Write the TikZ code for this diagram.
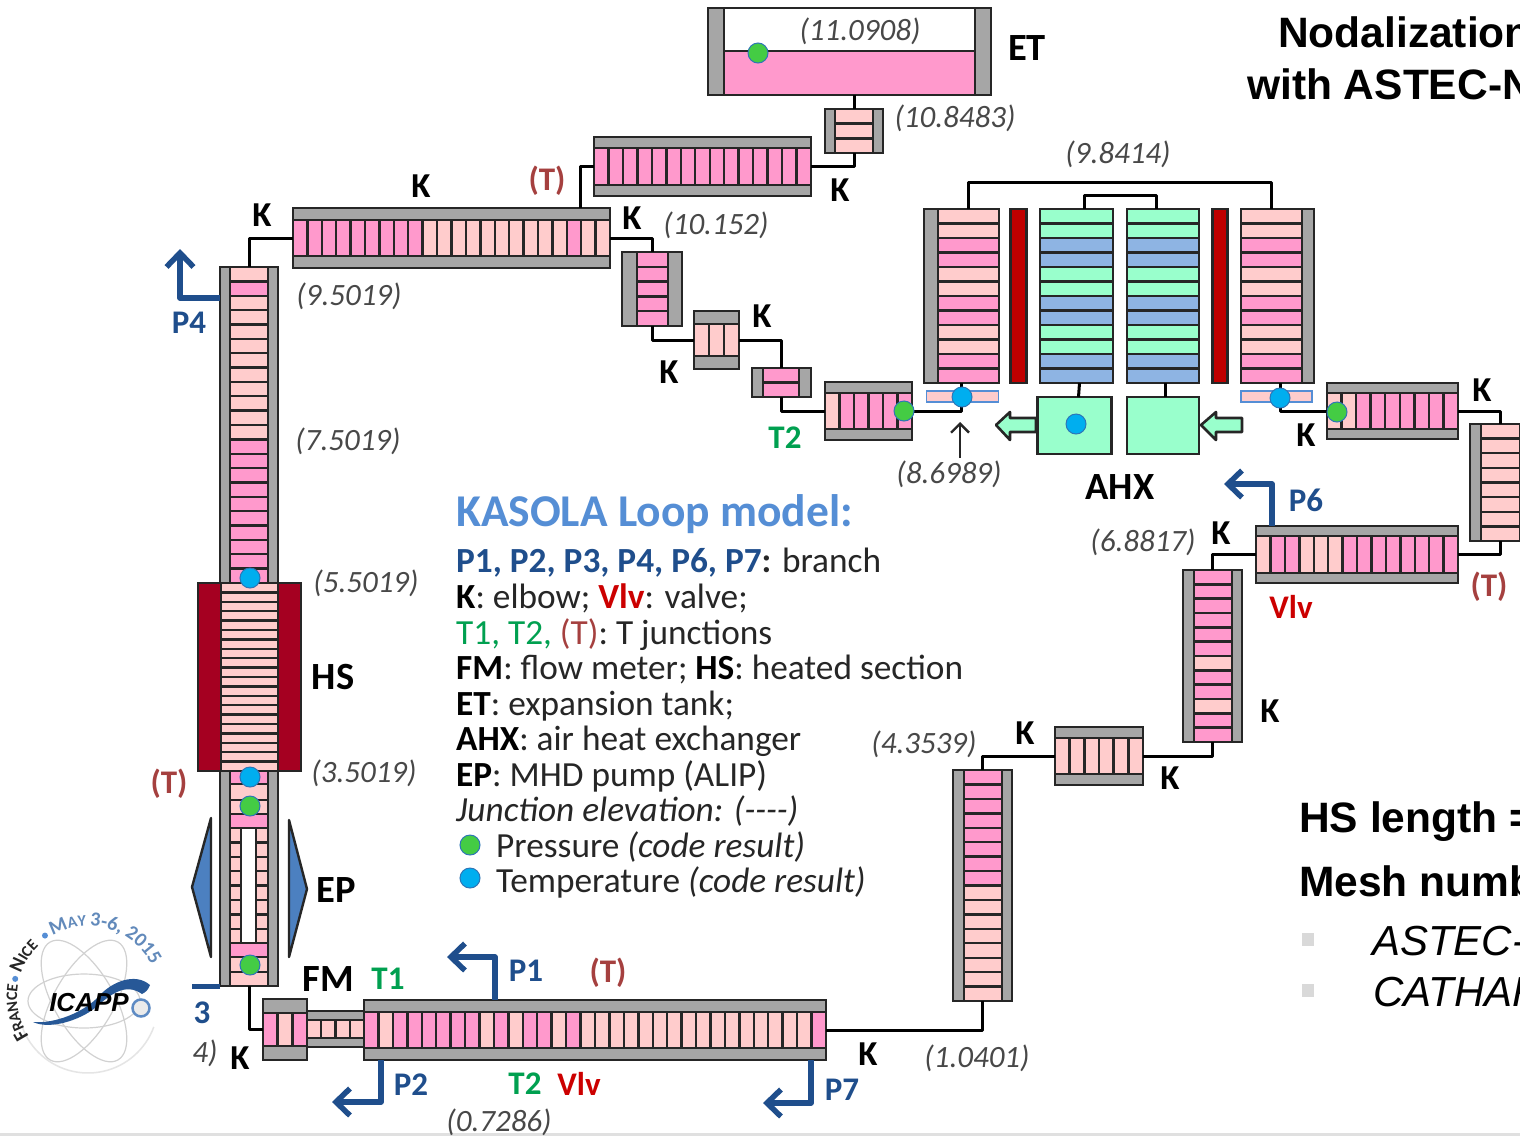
\documentclass[tikz,border=0pt]{standalone}
\usepackage{fontspec}
\setmainfont{Carlito}
\newfontfamily\arialf{Liberation Sans}
\usetikzlibrary{arrows.meta,decorations.text,calc}
\definecolor{P}{HTML}{FF99CC}
\definecolor{L}{HTML}{FFCCCC}
\definecolor{G}{HTML}{99FFCC}
\definecolor{B}{HTML}{8EB4E3}
\definecolor{wallgray}{HTML}{A6A6A6}
\definecolor{ink}{HTML}{262626}
\definecolor{hsred}{HTML}{A50021}
\definecolor{barred}{HTML}{C00000}
\definecolor{pblue}{HTML}{1F4E8C}
\definecolor{kblue}{HTML}{558ED5}
\definecolor{tgreen}{HTML}{00A050}
\definecolor{tred}{HTML}{A5403F}
\definecolor{vred}{HTML}{CC0000}
\definecolor{elevgray}{HTML}{484848}
\definecolor{dotg}{HTML}{44CC44}
\definecolor{dotb}{HTML}{00AEEF}
\definecolor{dotedge}{HTML}{2E75B6}
\tikzset{
  wallbox/.style={draw=ink,fill=wallgray,line width=2.4pt,rectangle,inner sep=0pt,outer sep=0pt},
  cellbox/.style={draw=ink,line width=2.4pt},
  conn/.style={draw=black,line width=3pt,line join=round},
  branch/.style={draw=pblue,line width=5.5pt,line join=round,-{Straight Barb[length=14pt,width=27pt,line width=5.5pt]}},
  lab/.style={font=\fontsize{33}{33}\selectfont\bfseries,inner sep=0pt,text=pblue},
  lk/.style={font=\fontsize{38.5}{38.5}\selectfont\bfseries,inner sep=0pt,text=black},
  lkk/.style={font=\fontsize{35}{35}\selectfont\bfseries,inner sep=0pt,text=black},
  lp/.style={lab,text=pblue},
  lt1/.style={lab,text=tgreen},
  ltr/.style={lab,text=tred},
  lv/.style={lab,text=vred},
  elev/.style={font=\fontsize{31}{31}\selectfont\itshape,inner sep=0pt,text=elevgray,yshift=-1.5pt},
  leg/.style={font=\fontsize{35.3}{35.3}\selectfont,inner sep=0pt,anchor=base west,text=ink},
  dotG/.style={circle,fill=dotg,draw=dotedge,line width=1pt,minimum size=20pt,inner sep=0pt},
  dotB/.style={circle,fill=dotb,draw=dotedge,line width=1pt,minimum size=20pt,inner sep=0pt},
  head/.style={font=\arialf\bfseries\fontsize{42.5}{42.5}\selectfont,inner sep=0pt,anchor=base west,text=black},
  note/.style={font=\arialf\fontsize{42}{42}\selectfont\itshape,inner sep=0pt,anchor=base west,text=black},
  minty/.style={draw=ink,fill=G,line width=2.6pt,line join=round},
  orbit/.style={draw=black!18,line width=1.2pt},
}
% name, x0, y0, x1, y1, bar, n, colours
\newcommand{\hpipe}[8]{%
  \node[wallbox,minimum width=#4pt-#2pt,minimum height=#5pt-#3pt] (#1) at ({(#2+#4)/2},{(#3+#5)/2}) {};
  \foreach \cc [count=\ii] in {#8} {
    \filldraw[cellbox,fill=\cc] ({#2+(\ii-1)*(#4-#2)/#7},{#3+#6}) rectangle ({#2+\ii*(#4-#2)/#7},{#5-#6});
  }}
% name, x0, y0, x1, y1, barL, barR, n, colours
\newcommand{\vpipe}[9]{%
  \node[wallbox,minimum width=#4pt-#2pt,minimum height=#5pt-#3pt] (#1) at ({(#2+#4)/2},{(#3+#5)/2}) {};
  \foreach \cc [count=\ii] in {#9} {
    \filldraw[cellbox,fill=\cc] ({#2+#6},{#3+(\ii-1)*(#5-#3)/#8}) rectangle ({#4-#7},{#3+\ii*(#5-#3)/#8});
  }}
\begin{document}
\begin{tikzpicture}[x=1pt,y=-1pt]
\clip (0,0) rectangle (1520,1136);
\fill[white] (0,0) rectangle (1520,1136);
\fill[black!12] (0,1133) rectangle (1520,1136);

% ---- expansion tank
\node[wallbox,minimum width=283pt,minimum height=87pt] (et) at (849.5,51.5) {};
\filldraw[cellbox,fill=white] (724,8) rectangle (975,51);
\filldraw[cellbox,fill=P] (724,51) rectangle (975,95);
\vpipe{etsmall}{825}{109}{883}{153}{10}{10}{3}{L,L,L}
\hpipe{ptop}{594}{137}{811}{196}{11}{15}{P,P,P,P,P,P,P,P,P,P,P,P,P,P,P}
\hpipe{pleft}{293}{208}{610}{268}{12}{22}{P,P,P,P,P,P,P,P,P,L,L,L,L,L,L,L,L,L,L,P,L,L}
\vpipe{pa}{622}{252}{682}{326}{15}{14}{5}{P,P,P,P,P}
\hpipe{pb}{694}{311}{739}{369}{13}{3}{L,L,L}
\vpipe{pc}{752}{368}{811}{397}{11}{12}{2}{P,P}
\hpipe{pd}{825}{382}{912}{440}{11}{6}{L,P,P,P,P,P}

% ---- AHX
\vpipe{ahxL}{924}{209}{999}{383}{14}{0}{12}{L,L,P,P,L,L,P,P,L,L,P,P}
\node[wallbox,fill=barred,minimum width=16pt,minimum height=174pt] (rbarL) at (1018.5,296) {};
\vpipe{hxa}{1040}{209}{1113}{383}{0}{0}{12}{G,G,B,B,G,G,B,B,G,G,B,B}
\vpipe{hxb}{1127}{209}{1199}{383}{0}{0}{12}{G,G,B,B,G,G,B,B,G,G,B,B}
\node[wallbox,fill=barred,minimum width=15pt,minimum height=174pt] (rbarR) at (1220,296) {};
\vpipe{ahxR}{1241}{209}{1314}{383}{0}{12}{12}{L,L,P,P,L,L,P,P,L,L,P,P}
\node[wallbox,fill=G,minimum width=74pt,minimum height=57pt] (boxa) at (1074.5,425.5) {};
\node[wallbox,fill=G,minimum width=72pt,minimum height=57pt] (boxb) at (1163,425.5) {};
\node[wallbox,draw=kblue,fill=L,minimum width=72pt,minimum height=11pt,line width=1.6pt] (thinL) at (962.5,396.5) {};
\node[wallbox,draw=kblue,fill=L,minimum width=71pt,minimum height=11pt,line width=1.6pt] (thinR) at (1276.5,396.5) {};
\filldraw[minty] (996,425) -- (1010,412) -- (1010,418) -- (1036,418) -- (1036,432) -- (1010,432) -- (1010,440) -- cycle;
\filldraw[minty] (1201,425) -- (1216,412) -- (1216,418) -- (1242,418) -- (1242,432) -- (1216,432) -- (1216,440) -- cycle;

% ---- right branch
\hpipe{pe}{1327}{383}{1458}{439}{10}{9}{L,L,P,P,P,P,P,P,P}
\vpipe{pf}{1470}{424}{1531}{541}{11}{11}{8}{L,L,L,L,L,L,L,L}
\hpipe{pg}{1256}{526}{1458}{583}{10}{14}{L,P,P,L,L,L,P,P,P,P,P,P,P,P}
\vpipe{ph}{1183}{570}{1242}{742}{11}{10}{12}{P,P,P,P,P,P,L,P,P,L,P,P}
\hpipe{pi}{1055}{727}{1143}{785}{11}{6}{L,L,L,L,L,L}
\vpipe{pj}{953}{770}{1012}{1001}{11}{10}{16}{P,P,P,P,P,P,P,P,L,L,L,L,L,L,L,L}

% ---- bottom branch
\hpipe{pmain}{364}{1000}{826}{1060}{12}{32}{P,L,P,P,P,P,P,P,L,P,L,P,P,L,P,L,L,L,L,L,L,L,L,L,L,L,L,L,L,L,L,P}
\hpipe{pfmlink}{307}{1011}{364}{1047}{9}{4}{L,L,L,L}
\hpipe{pfm}{263}{999}{307}{1060}{14}{3}{P,L,P}

% ---- main riser
\vpipe{riser}{220}{267}{278}{583}{10}{10}{22}{L,P,L,L,L,L,L,L,L,L,L,L,P,P,P,P,P,P,P,P,P,P}
\node[wallbox,fill=hsred,minimum width=103pt,minimum height=188pt] (hs) at (249.5,677) {};
\vpipe{heated}{221}{583}{278}{771}{0}{0}{20}{L,L,L,L,L,L,L,L,L,L,L,L,L,L,L,L,L,L,L,L}
\vpipe{lower}{220}{771}{278}{986}{10}{10}{1}{L}
\foreach \ii in {0,...,7} {
  \filldraw[cellbox,fill=L] (230,{828+\ii*14.4}) rectangle (241,{828+(\ii+1)*14.4});
  \filldraw[cellbox,fill=L] (256,{828+\ii*14.4}) rectangle (268,{828+(\ii+1)*14.4});
}
\filldraw[cellbox,fill=white] (241,828) rectangle (256,943);
\filldraw[cellbox,fill=P] (230,943) rectangle (268,957);
\filldraw[cellbox,fill=L] (230,957) rectangle (268,972);
\filldraw[cellbox,fill=L] (230,972) rectangle (268,986);
\filldraw[cellbox,fill=P] (230,771) rectangle (268,784);
\filldraw[cellbox,fill=L] (230,784) rectangle (268,800);
\filldraw[cellbox,fill=L] (230,800) rectangle (268,814);
\filldraw[cellbox,fill=P] (230,814) rectangle (268,828);
\filldraw[draw=ink,fill=kblue!90!black,line width=2.4pt,line join=round] (211,818) -- (192,887) -- (211,957) -- cycle;
\filldraw[draw=ink,fill=kblue!90!black,line width=2.4pt,line join=round] (289,820) -- (307,889) -- (289,957) -- cycle;

% ---- connectors
\draw[conn] (riser.north) |- (pleft.west);
\draw[conn] (pleft.east) -| (pa.north);
\draw[conn] (pa.south) |- (pb.west);
\draw[conn] (pb.east) -| (pc.north);
\draw[conn] (pc.south) |- (pd.west);
\draw[conn] (pd.east) -| (ahxL.south);
\draw[conn] (etsmall.north |- et.south) -- (etsmall.north);
\draw[conn] (etsmall.south) |- (ptop.east);
\draw[conn] (ptop.west) -| ([xshift=129pt]pleft.north);
\draw[conn] ([xshift=7pt]ahxL.north) -- ++(0,-27) -| ([xshift=-6pt]ahxR.north);
\draw[conn] ([xshift=8pt]hxa.north) -- ++(0,-14) -| ([xshift=-7pt]hxb.north);
\draw[conn] ([xshift=3pt]hxa.south) -- ([xshift=4pt]boxa.north);
\draw[conn] ([xshift=2pt]hxb.south) -- ([xshift=2pt]boxb.north);
\draw[conn] ([xshift=2.5pt]ahxR.south) |- (pe.west);
\draw[conn] (pe.east) -| (pf.north);
\draw[conn] (pf.south) |- (pg.east);
\draw[conn] (pg.west) -| (ph.north);
\draw[conn] (ph.south) |- (pi.east);
\draw[conn] (pi.west) -| (pj.north);
\draw[conn] (pj.south) |- (pmain.east);
\draw[conn] (lower.south) |- (pfm.west);

% ---- branches
\coordinate (tipone) at (447,957);
\coordinate (tiptwo) at (332,1102);
\coordinate (tipseven) at (763,1103);
\coordinate (tipfour) at (180,249);
\coordinate (tipsix) at (1224,484);
\coordinate (endthree) at (192,986);
\draw[branch] ([xshift=-100pt]pmain.north) |- (tipone);
\draw[branch] ([xshift=-214pt]pmain.south) |- (tiptwo);
\draw[branch] ([xshift=216pt]pmain.south) |- (tipseven);
\draw[branch] ([yshift=127pt]riser.west) -| (tipfour);
\draw[branch] ([xshift=-85pt]pg.north) |- (tipsix);
\draw[draw=pblue,line width=5pt] (lower.south west) -- (endthree);

% ---- dots
\node[dotG] (d1) at (758,53) {};
\node[dotG] (d2) at (904,411) {};
\node[dotB] (d3) at (962,397) {};
\node[dotB] (d4) at (1076,424) {};
\node[dotB] (d5) at (1280,398) {};
\node[dotG] (d6) at (1337,412) {};
\node[dotB] (d7) at (250,578) {};
\node[dotB] (d8) at (250,777) {};
\node[dotG] (d9) at (250,806) {};
\node[dotG] (d10) at (250,965) {};
\node[dotG] (d11) at (470,845) {};
\node[dotB] (d12) at (470,878) {};

% ---- labels
\node[lk] (tET) at (1027,48) {ET};
\node[elev] (e1) at (860,30) {(11.0908)};
\node[elev] (e2) at (955,117) {(10.8483)};
\node[elev] (e3) at (1118,153) {(9.8414)};
\node[elev] (e4) at (716,224) {(10.152)};
\node[elev] (e5) at (349,295) {(9.5019)};
\node[elev] (e6) at (348,440) {(7.5019)};
\node[elev] (e7) at (366,582) {(5.5019)};
\node[elev] (e8) at (364,772) {(3.5019)};
\node[elev] (e9) at (949,473) {(8.6989)};
\node[elev] (e10) at (1143,541) {(6.8817)};
\node[elev] (e11) at (924,743) {(4.3539)};
\node[elev] (e12) at (977,1057) {(1.0401)};
\node[elev] (e13) at (499,1121) {(0.7286)};
\node[elev] (e14) at (205,1052) {4)};
\coordinate (tipel) at (960,422);
\draw[draw=ink,line width=2.4pt,-{Straight Barb[length=9pt,width=18pt,line width=2.4pt]}] ([xshift=11pt,yshift=3pt]e9.north) -- (tipel);

\node[lkk] (k1) at (262,215) {K};
\node[lkk] (k2) at (421,186) {K};
\node[lkk] (k3) at (632,218) {K};
\node[lkk] (k4) at (840,190) {K};
\node[lkk] (k5) at (762,316) {K};
\node[lkk] (k6) at (669,372) {K};
\node[lkk] (k7) at (1306,435) {K};
\node[lkk] (k8) at (1482,390) {K};
\node[lkk] (k9) at (1221,533) {K};
\node[lkk] (k10) at (1270,711) {K};
\node[lkk] (k11) at (1170,778) {K};
\node[lkk] (k12) at (1025,733) {K};
\node[lkk] (k13) at (868,1054) {K};
\node[lkk] (k14) at (240,1058) {K};
\node[lk] (tHS) at (333,677) {HS};
\node[lk] (tEP) at (336,890) {EP};
\node[lk] (tFM) at (328,979) {FM};
\node[lk] (tAHX) at (1120,487) {AHX};
\node[lp] (tP4) at (189,323) {P4};
\node[lp] (tP1) at (526,971) {P1};
\node[lp] (tP2) at (411,1085) {P2};
\node[lp] (tP7) at (842,1090) {P7};
\node[lp] (tP6) at (1306,500) {P6};
\node[lp] (tP3) at (202,1013) {3};
\node[lt1] (tT1) at (388,979) {T1};
\node[lt1] (tT2a) at (525,1084) {T2};
\node[lt1] (tT2b) at (785,438) {T2};
\node[ltr] (tTa) at (547,181) {(T)};
\node[ltr] (tTb) at (169,784) {(T)};
\node[ltr] (tTc) at (608,973) {(T)};
\node[ltr] (tTd) at (1489,587) {(T)};
\node[lv] (tVa) at (579,1084) {Vlv};
\node[lv] (tVb) at (1291,607) {Vlv};

% ---- legend
\node[leg,font=\fontsize{45.5}{45.5}\selectfont\bfseries,text=kblue] (lg0) at (456,526) {KASOLA Loop model:};
\node[leg] (lg1) at (456,572) {\textbf{\textcolor{pblue}{P1, P2, P3, P4, P6, P7}:} branch};
\node[leg] (lg2) at (456,608) {\textbf{\textcolor{black}{K}}: elbow; \textbf{\textcolor{vred}{Vlv}}: valve;};
\node[leg] (lg3) at (456,644) {\textcolor{tgreen}{T1, T2,} \textcolor{tred}{(T)}: T junctions};
\node[leg] (lg4) at (456,679) {\textbf{\textcolor{black}{FM}}: flow meter; \textbf{\textcolor{black}{HS}}: heated section};
\node[leg] (lg5) at (456,715) {\textbf{\textcolor{black}{ET}}: expansion tank;};
\node[leg] (lg6) at (456,750) {\textbf{\textcolor{black}{AHX}}: air heat exchanger};
\node[leg] (lg7) at (456,786) {\textbf{\textcolor{black}{EP}}: MHD pump (ALIP)};
\node[leg] (lg8) at (456,821) {\textit{Junction elevation: ({-}{-}{-}{-})}};
\node[leg] (lg9) at (496,857) {Pressure \textit{(code result)}};
\node[leg] (lg10) at (496,892) {Temperature \textit{(code result)}};

% ---- right text
\node[head] (h1) at (1278,47) {Nodalization};
\node[head] (h2) at (1247,99) {with ASTEC-N};
\node[head] (h3) at (1299,832) {HS length =};
\node[head] (h4) at (1299,896) {Mesh numb};
\node[note] (h5) at (1372,955) {ASTEC-};
\node[note] (h6) at (1373,1006) {CATHAR};
\fill[black!15] (1302,933) rectangle (1314,946);
\fill[black!15] (1302,984) rectangle (1314,997);

% ---- logo
\coordinate (logoc) at (84,1001);
\draw[orbit] (logoc) ellipse [x radius=56,y radius=27];
\draw[orbit] (logoc) ellipse [x radius=68,y radius=30,rotate=60];
\draw[orbit] (logoc) ellipse [x radius=68,y radius=30,rotate=-60];
\draw[draw=black!10,line width=1.5pt] plot[domain=20:160,samples=40] ({88+70*cos(\x)},{1003+70*sin(\x)});
\fill[pblue!85!kblue] (33,1022) .. controls (55,1024) and (85,1012) .. (100,995) .. controls (112,982) and (135,972) .. (150,985) .. controls (148,990) and (146,992) .. (142,994) .. controls (125,982) and (110,995) .. (95,1008) .. controls (80,1020) and (50,1030) .. (33,1022) -- cycle;
\node[font=\arialf\bfseries\itshape\fontsize{26}{26}\selectfont,inner sep=0pt,text=black] (licapp) at (89,1003) {ICAPP};
\filldraw[draw=kblue!80!gray,fill=black!8,line width=2.5pt] (141,1008) circle (8.5);
\path[decorate,decoration={text along path,text color=ink,text={|\fontsize{20}{20}\selectfont\bfseries|F|\fontsize{16}{16}\selectfont\bfseries|RANCE}}] plot[domain=146:192,samples=30] ({88+71*cos(\x)},{997+71*sin(\x)});
\path[decorate,decoration={text along path,text color=ink,text={|\fontsize{20}{20}\selectfont\bfseries|N|\fontsize{16}{16}\selectfont\bfseries|ICE}}] plot[domain=199:232,samples=30] ({88+71*cos(\x)},{997+71*sin(\x)});
\path[decorate,decoration={text along path,text color=kblue!70!gray,text={|\fontsize{20}{20}\selectfont\bfseries|M|\fontsize{16}{16}\selectfont\bfseries|AY |\fontsize{20}{20}\selectfont\bfseries|3-6, 2015}}] plot[domain=240:340,samples=50] ({88+71*cos(\x)},{997+71*sin(\x)});
\fill[kblue] ({88+75*cos(194)},{997+75*sin(194)}) circle (3);
\fill[kblue] ({88+75*cos(235)},{997+75*sin(235)}) circle (3);
\end{tikzpicture}
\end{document}
